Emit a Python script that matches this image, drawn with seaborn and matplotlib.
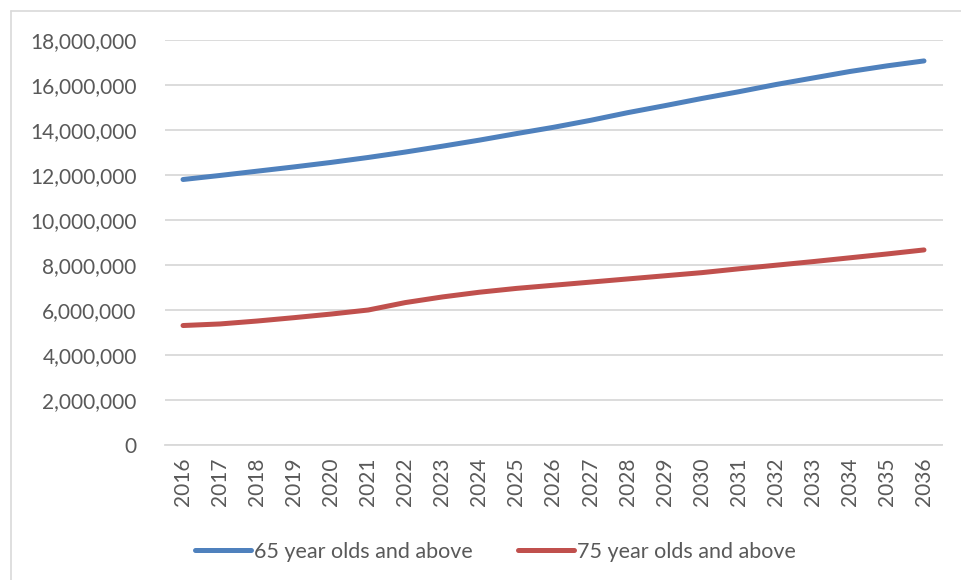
import matplotlib
matplotlib.use("Agg")
import matplotlib.pyplot as plt
from matplotlib.lines import Line2D
from matplotlib.ticker import FuncFormatter
import seaborn as sns
import pandas as pd

years = list(range(2016, 2037))
series_names = ["65 year olds and above", "75 year olds and above"]
age65_plus = [11.80, 11.98, 12.17, 12.36, 12.56, 12.78, 13.02, 13.28, 13.55, 13.84,
              14.12, 14.43, 14.77, 15.08, 15.40, 15.70, 16.02, 16.31, 16.60, 16.85, 17.07]
age75_plus = [5.31, 5.38, 5.51, 5.66, 5.82, 6.00, 6.33, 6.58, 6.79, 6.96,
              7.10, 7.24, 7.38, 7.52, 7.66, 7.83, 7.99, 8.15, 8.32, 8.49, 8.67]
y_ticks = [0, 2, 4, 6, 8, 10, 12, 14, 16, 18]  # millions
colors = ["#4F81BD", "#C0504D"]

sns.set_style("white")
plt.rcParams["font.family"] = ["Lato", "DejaVu Sans"]

df = pd.DataFrame({
    "pos": list(range(len(years))) * 2,
    "value": [v * 1e6 for v in age65_plus] + [v * 1e6 for v in age75_plus],
    "series": [series_names[0]] * len(years) + [series_names[1]] * len(years),
})

fig = plt.figure(figsize=(9.61, 5.80), dpi=100)
ax = fig.add_axes([164.5 / 961, 1 - 445 / 580, (942.5 - 164.5) / 961, (445 - 40) / 580])

sns.lineplot(data=df, x="pos", y="value", hue="series", palette=colors,
             linewidth=3.6, ax=ax, legend=False, solid_capstyle="round")

ax.set_xlim(-0.5, len(years) - 0.5)
ax.set_ylim(0, 18e6)
ax.set_yticks([t * 1e6 for t in y_ticks])
ax.yaxis.set_major_formatter(FuncFormatter(lambda v, p: f"{int(round(v)):,}"))
ax.set_xticks(range(len(years)))
ax.set_xticklabels([str(y) for y in years], rotation=90)
ax.tick_params(axis="y", length=0, pad=20, labelsize=15, labelcolor="#595959")
ax.tick_params(axis="x", length=0, pad=9, labelsize=15, labelcolor="#595959")
ax.set_xlabel("")
ax.set_ylabel("")
ax.grid(axis="y", color="#D9D9D9", linewidth=1.3)
ax.set_axisbelow(True)
for s in ["top", "right", "left"]:
    ax.spines[s].set_visible(False)
ax.spines["bottom"].set_color("#D9D9D9")
ax.spines["bottom"].set_linewidth(1.3)

handles = [Line2D([0], [0], color=c, linewidth=3.6, solid_capstyle="round") for c in colors]
fig.legend(handles, series_names, loc="center", bbox_to_anchor=(495 / 961, 1 - 552 / 580),
           ncol=2, frameon=False, fontsize=15.5, handlelength=2.6, handletextpad=0.14,
           columnspacing=2.1, labelcolor="#595959")

# light chart-area border (top and left edges visible)
fig.add_artist(Line2D([10.5 / 961, 1.0], [1 - 11 / 580, 1 - 11 / 580], color="#D9D9D9", linewidth=1.2))
fig.add_artist(Line2D([10.5 / 961, 10.5 / 961], [0.0, 1 - 11 / 580], color="#D9D9D9", linewidth=1.2))

fig.savefig("out.png", dpi=100, facecolor="white")
